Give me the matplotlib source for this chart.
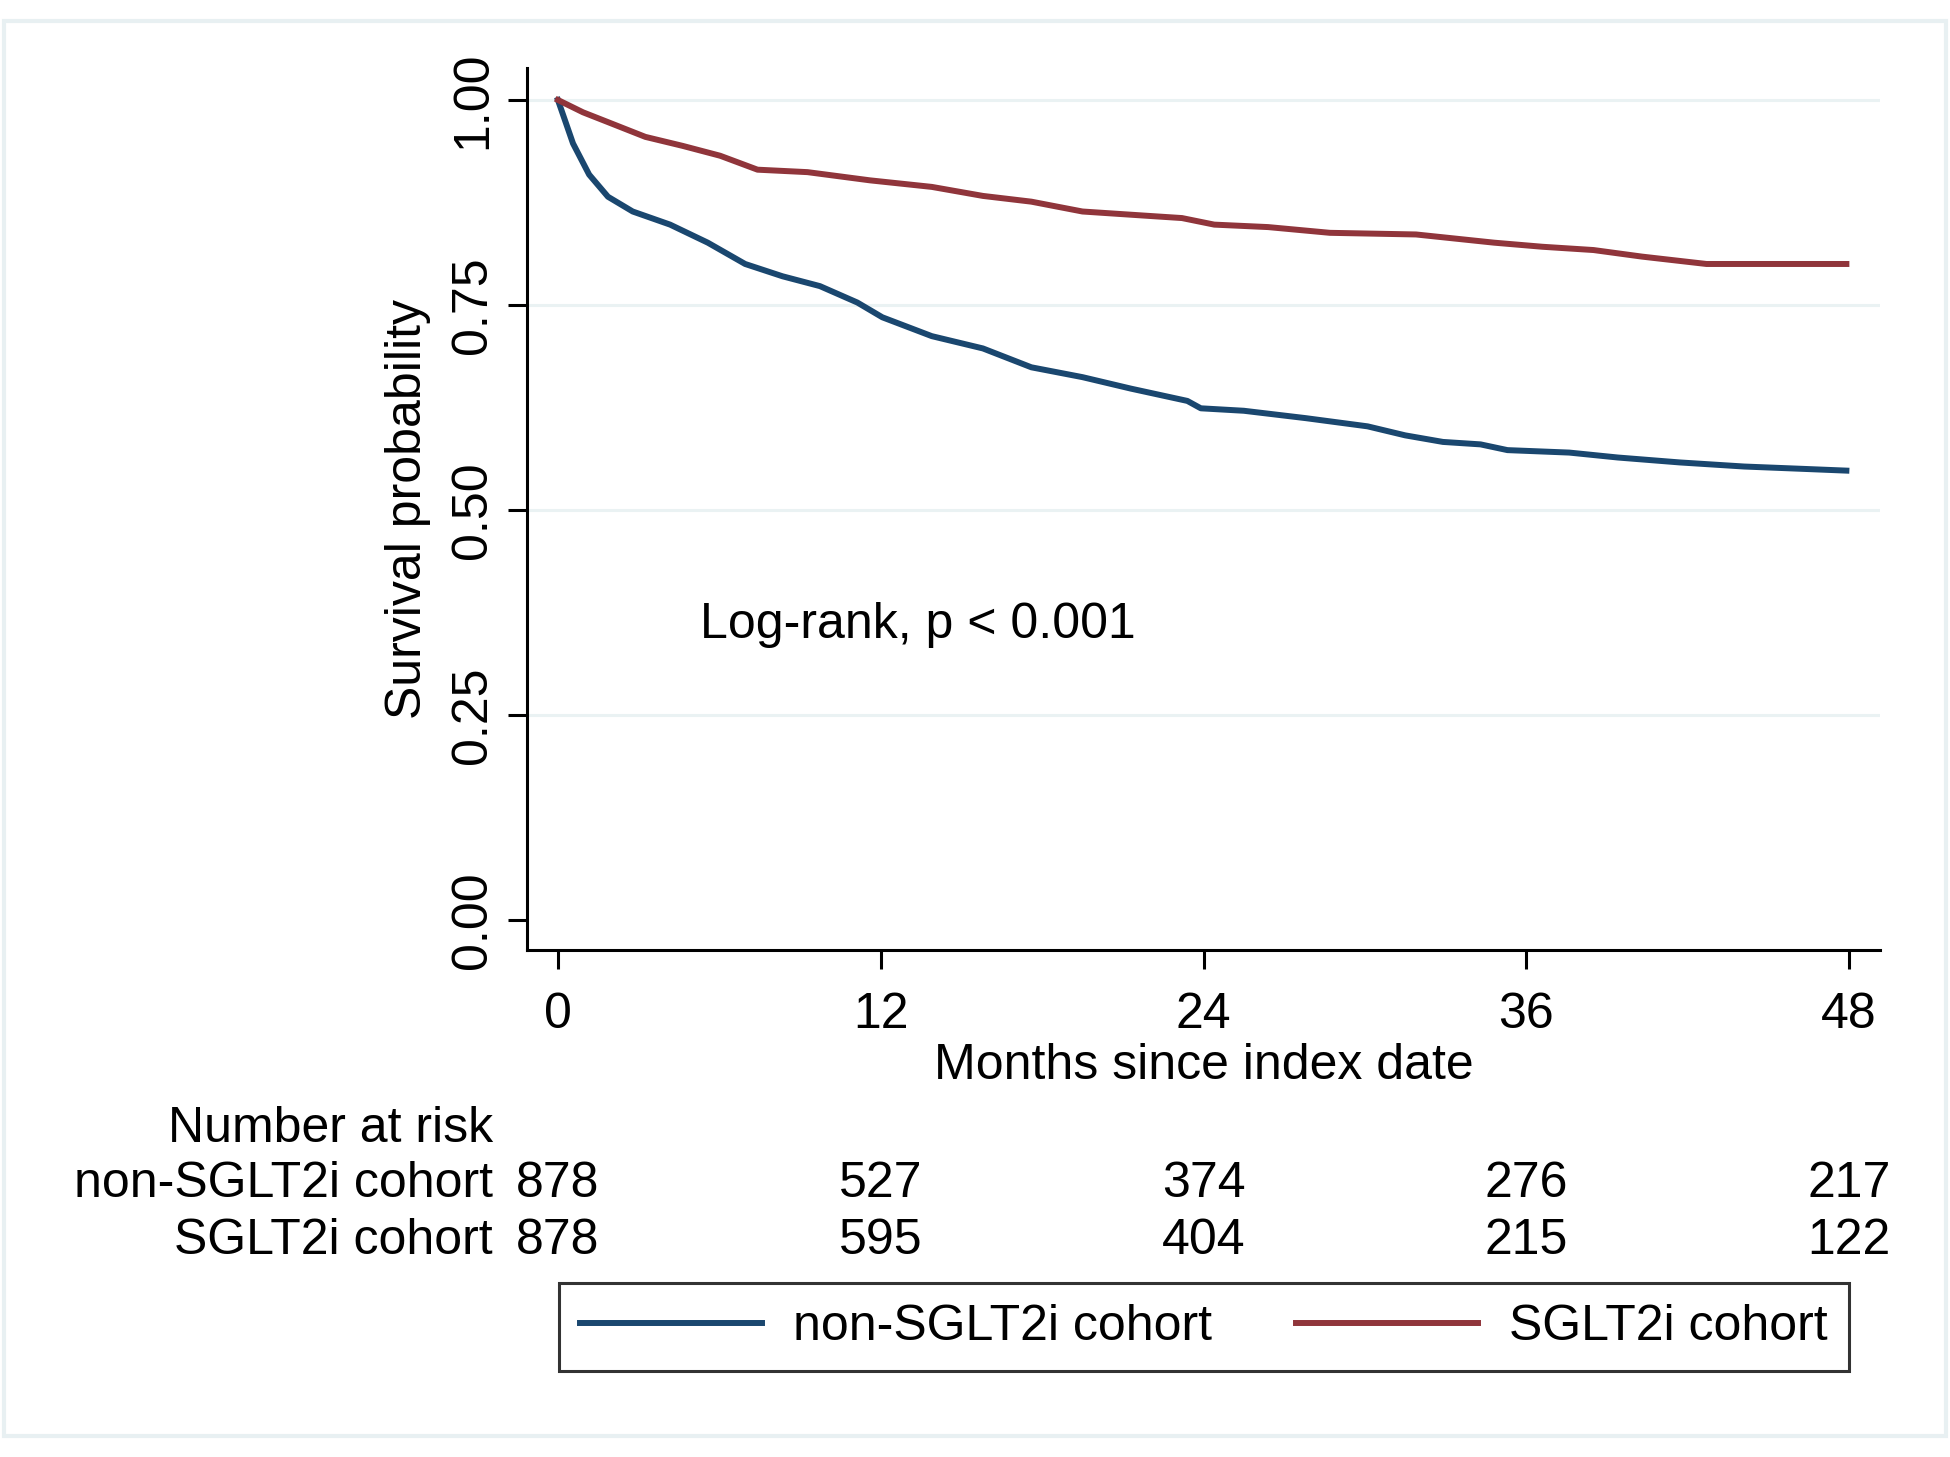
import matplotlib
matplotlib.use("Agg")
import matplotlib.pyplot as plt
from matplotlib.patches import Rectangle
from matplotlib.transforms import blended_transform_factory

plt.rcParams['font.family'] = ['Liberation Sans', 'DejaVu Sans']

# Kaplan-Meier curves (months, survival)
t_non = [0, 0.56, 1.16, 1.86, 2.78, 4.17, 5.57, 6.96, 8.35, 9.74, 11.13, 12.06,
         13.9, 15.8, 17.6, 19.5, 21.3, 23.4, 23.9, 25.5, 27.8, 30.1, 31.5, 32.9,
         34.3, 35.3, 37.6, 39.4, 41.7, 44.1, 46.4, 47.9]
s_non = [1.0, 0.947, 0.909, 0.882, 0.864, 0.848, 0.826, 0.800, 0.785, 0.773, 0.753, 0.735,
         0.712, 0.697, 0.674, 0.662, 0.648, 0.633, 0.624, 0.621, 0.612, 0.602, 0.591, 0.583,
         0.580, 0.573, 0.570, 0.564, 0.558, 0.553, 0.550, 0.548]

t_sglt = [0, 0.93, 1.86, 3.25, 4.64, 6.03, 7.42, 9.28, 11.6, 13.9, 15.8, 17.6, 19.5,
          21.8, 23.2, 24.4, 26.4, 28.7, 31.9, 34.8, 36.6, 38.5, 40.3, 42.7, 47.9]
s_sglt = [1.0, 0.985, 0.973, 0.955, 0.944, 0.932, 0.915, 0.912, 0.902, 0.894, 0.883, 0.876, 0.864,
          0.859, 0.856, 0.848, 0.845, 0.838, 0.836, 0.826, 0.821, 0.817, 0.809, 0.800, 0.800]

risk_times = [0, 12, 24, 36, 48]
risk_non = [878, 527, 374, 276, 217]
risk_sglt = [878, 595, 404, 215, 122]

labels = ['non-SGLT2i cohort', 'SGLT2i cohort']
colors = ['#1a476f', '#90353b']

fs = 36

fig = plt.figure(figsize=(19.5, 14.57), dpi=100)
fig.patch.set_facecolor('white')

# light outer frame (graph region)
fig.patches.append(Rectangle((4 / 1950, 1 - 1436 / 1457), 1942 / 1950, 1415 / 1457,
                             transform=fig.transFigure, fill=False,
                             edgecolor='#e8f0f2', linewidth=3))

ax = fig.add_axes([527 / 1950, 1 - 950 / 1457, (1880 - 527) / 1950, (950 - 68) / 1457])

ax.plot(t_non, s_non, color=colors[0], lw=4.3, label=labels[0], solid_joinstyle='round')
ax.plot(t_sglt, s_sglt, color=colors[1], lw=4.3, label=labels[1], solid_joinstyle='round')

ax.set_xlim(-1.15, 49.15)
ax.set_ylim(-0.0366, 1.039)
ax.set_xticks(risk_times)
ax.set_yticks([0, 0.25, 0.5, 0.75, 1.0])
ax.set_yticklabels(['0.00', '0.25', '0.50', '0.75', '1.00'], rotation=90, va='center')
for y in [0.25, 0.5, 0.75, 1.0]:
    ax.axhline(y, color='#eaf2f3', lw=2.2, zorder=0)

for s in ['top', 'right']:
    ax.spines[s].set_visible(False)
for s in ['left', 'bottom']:
    ax.spines[s].set_linewidth(2.2)
ax.tick_params(axis='both', length=14, width=2.2, labelsize=fs)
ax.tick_params(axis='y', pad=8)
ax.tick_params(axis='x', pad=16)

ax.set_ylabel('Survival probability', fontsize=fs, labelpad=14)
ax.set_xlabel('Months since index date', fontsize=fs, labelpad=4)

ax.text(700 / 1950, 1 - 625 / 1457, 'Log-rank, p < 0.001', transform=fig.transFigure,
        fontsize=fs, ha='left', va='center')

# number at risk table
tr = blended_transform_factory(ax.transData, fig.transFigure)
y0, y1, y2 = 1 - 1129 / 1457, 1 - 1184 / 1457, 1 - 1241 / 1457
fig.text(493 / 1950, y0, 'Number at risk', fontsize=fs, ha='right', va='center')
fig.text(493 / 1950, y1, labels[0], fontsize=fs, ha='right', va='center')
fig.text(493 / 1950, y2, labels[1], fontsize=fs, ha='right', va='center')
for t, n1, n2 in zip(risk_times, risk_non, risk_sglt):
    ax.text(t, y1, str(n1), transform=tr, fontsize=fs, ha='center', va='center', clip_on=False)
    ax.text(t, y2, str(n2), transform=tr, fontsize=fs, ha='center', va='center', clip_on=False)

leg = ax.legend(loc='center', bbox_to_anchor=(1204 / 1950, 1 - 1327 / 1457),
                bbox_transform=fig.transFigure, ncol=2, fontsize=fs, frameon=True,
                fancybox=False, edgecolor='black', handlelength=3.64, handletextpad=0.62,
                columnspacing=1.69, borderpad=0.42, borderaxespad=0)
leg.get_frame().set_linewidth(2.2)

fig.savefig('out.png', dpi=100)
